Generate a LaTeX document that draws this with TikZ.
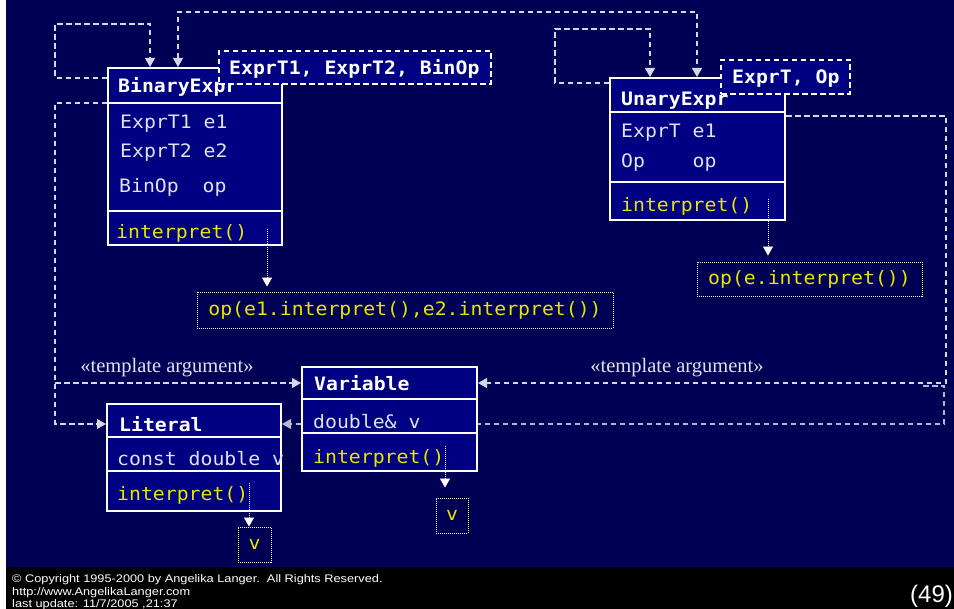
\documentclass[tikz,border=0pt]{standalone}
\usepackage{fontspec}
\setmainfont{Liberation Serif}
\newfontfamily\codefont[FakeStretch=1.07]{DejaVu Sans Mono}
\newfontfamily\footfont[FakeStretch=1.16]{Liberation Sans}
\newfontfamily\pagefont{Liberation Sans}
\usetikzlibrary{arrows.meta}
\pgfdeclarelayer{wires}
\pgfsetlayers{wires,main}
\definecolor{slidebg}{RGB}{0,0,84}
\definecolor{boxblue}{RGB}{0,0,130}
\definecolor{codeyellow}{RGB}{230,230,0}
\definecolor{attrgray}{RGB}{225,225,235}
\definecolor{wiregray}{RGB}{215,215,228}
\tikzset{
  classbox/.style={draw=white, line width=2pt, fill=boxblue, inner sep=0pt},
  sepline/.style={draw=white, line width=2pt},
  tplbox/.style={draw=white, dash pattern=on 5.5pt off 3.5pt, line width=1.2pt, fill=boxblue, inner sep=0pt},
  resbox/.style={draw=white, dash pattern=on 1pt off 1pt, line width=0.9pt, inner sep=0pt,
    text=codeyellow, font=\codefont\fontsize{18.5}{18.5}\selectfont},
  title/.style={anchor=base west, inner sep=0pt, text=white, font=\codefont\bfseries\fontsize{18.5}{18.5}\selectfont},
  attr/.style={anchor=base west, inner sep=0pt, text=attrgray, font=\codefont\fontsize{18.5}{18.5}\selectfont},
  meth/.style={attr, text=codeyellow},
  tip/.style={-{Triangle[width=10pt,length=9pt]}},
  dep/.style={draw=wiregray, line width=1.2pt, dash pattern=on 5.5pt off 3.5pt, tip},
  call/.style={draw=white, line width=0.9pt, dash pattern=on 1pt off 1pt, tip},
  stereo/.style={anchor=base, inner sep=0pt, text=attrgray, font=\fontsize{20.5}{20.5}\selectfont},
  foot/.style={anchor=base west, inner sep=0pt, text=white, font=\footfont\fontsize{11}{11}\selectfont},
}
\begin{document}
\begin{tikzpicture}[x=1pt,y=-1pt]
\useasboundingbox (0,0) rectangle (954,609);

% ---- class BinaryExpr ----
\node[classbox, minimum width=174pt, minimum height=177pt] (bin) at (195,156.5) {};
\draw[sepline] (bin.west |- 0,103) -- (bin.east |- 0,103);
\draw[sepline] (bin.west |- 0,211) -- (bin.east |- 0,211);
\node[title] (binT) at (118,93) {BinaryExpr};
\node[attr] (binA1) at (120,129) {ExprT1 e1};
\node[attr] (binA2) at (120,158) {ExprT2 e2};
\node[attr] (binA3) at (119,193) {BinOp\ \ op};
\node[meth] (binM) at (116,239) {interpret()};
\node[tplbox, minimum width=272pt, minimum height=33pt] (binTpl) at (355,67.5) {};
\node[title] (binTplT) at (229,75) {ExprT1, ExprT2, BinOp};

% ---- class UnaryExpr ----
\node[classbox, minimum width=175pt, minimum height=142pt] (un) at (697.5,149) {};
\draw[sepline] (un.west |- 0,112) -- (un.east |- 0,112);
\draw[sepline] (un.west |- 0,182) -- (un.east |- 0,182);
\node[title] (unT) at (621,106) {UnaryExpr};
\node[attr] (unA1) at (621,138) {ExprT e1};
\node[attr] (unA2) at (621,168) {Op\ \ \ \ op};
\node[meth] (unM) at (621,212) {interpret()};
\node[tplbox, minimum width=129pt, minimum height=34pt] (unTpl) at (785.5,77) {};
\node[title] (unTplT) at (732,84) {ExprT, Op};

% ---- class Variable ----
\node[classbox, minimum width=175pt, minimum height=104pt] (var) at (389.5,419) {};
\draw[sepline] (var.west |- 0,399) -- (var.east |- 0,399);
\draw[sepline] (var.west |- 0,433) -- (var.east |- 0,433);
\node[title] (varT) at (314,391) {Variable};
\node[attr] (varA) at (313,429) {double\& v};
\node[meth] (varM) at (313,464) {interpret()};

% ---- class Literal ----
\node[classbox, minimum width=174pt, minimum height=107pt] (lit) at (194,457.5) {};
\draw[sepline] (lit.west |- 0,437) -- (lit.east |- 0,437);
\draw[sepline] (lit.west |- 0,471) -- (lit.east |- 0,471);
\node[title] (litT) at (119,432) {Literal};
\node[attr] (litA) at (117,466) {const double v};
\node[meth] (litM) at (117,501) {interpret()};

% ---- results of interpret() ----
\node[resbox, minimum width=416pt, minimum height=36pt] (binRes) at (405,310) {op(e1.interpret(),e2.interpret())};
\node[resbox, minimum width=225pt, minimum height=34pt] (unRes) at (809.5,279) {op(e.interpret())};
\node[resbox, minimum width=33pt, minimum height=35pt] (litRes) at (254.5,544.5) {v};
\node[resbox, minimum width=32pt, minimum height=35pt] (varRes) at (452,515.5) {v};

\coordinate (binCall) at (267,229);
\coordinate (unCall) at (768,199);
\coordinate (litCall) at (249,483);
\coordinate (varCall) at (445,446);
\draw[call, shorten >=5pt] (binCall) -- (binRes.north -| binCall);
\draw[call, shorten >=6pt] (unCall) -- (unRes.north -| unCall);
\draw[call] (litCall) -- (litRes.north -| litCall);
\draw[call, shorten >=10pt] (varCall) -- (varRes.north -| varCall);

% ---- stereotype labels ----
\node[stereo] (tplL) at (167,373) {«template argument»};
\node[stereo] (tplR) at (677,373) {«template argument»};

% ---- footer ----
\node[foot] (c1) at (12,583) {© Copyright 1995-2000 by Angelika Langer.\ \ All Rights Reserved.};
\node[foot] (c2) at (12,595) {http://www.AngelikaLanger.com};
\node[foot] (c3) at (12,607) {last update: 11/7/2005 ,21:37};
\node[anchor=base west, inner sep=0pt, text=white, font=\pagefont\fontsize{24}{24}\selectfont] (pg) at (910,602) {(49)};

% ---- background and dependency wires ----
\begin{pgfonlayer}{wires}
  \fill[white] (0,0) rectangle (954,609);
  \fill[slidebg] (6,0) rectangle (954,567);
  \fill[black] (6,567) rectangle (954,609);
  \coordinate (split) at (55,383);
  \coordinate (stub) at (923,386);
  \draw[dep] (bin.west |- 0,78) -- (55,78) -- (55,24) -- (150,24) -- (bin.north -| 150,0);
  \draw[dep, {Triangle[width=10pt,length=9pt]}-{Triangle[width=10pt,length=9pt]}]
    (bin.north -| 178,0) -- (178,12) -- (697,12) -- (un.north -| 697,0);
  \draw[dep] (un.west |- 0,83) -- (555,83) -- (555,29) -- (650,29) -- (un.north -| 650,0);
  \draw[dep] (bin.west |- 0,103) -- (55,103) -- (55,424) -- (lit.west |- 0,424);
  \draw[dep] (split) -- (var.west |- split);
  \draw[dep] (un.east |- 0,116) -- (946,116) -- (946,383) -- (var.east |- 0,383);
  \draw[dep, draw=wiregray!85!slidebg] (stub) -- (944,386) -- (944,424) -- (lit.east |- 0,424);
\end{pgfonlayer}
\end{tikzpicture}
\end{document}
